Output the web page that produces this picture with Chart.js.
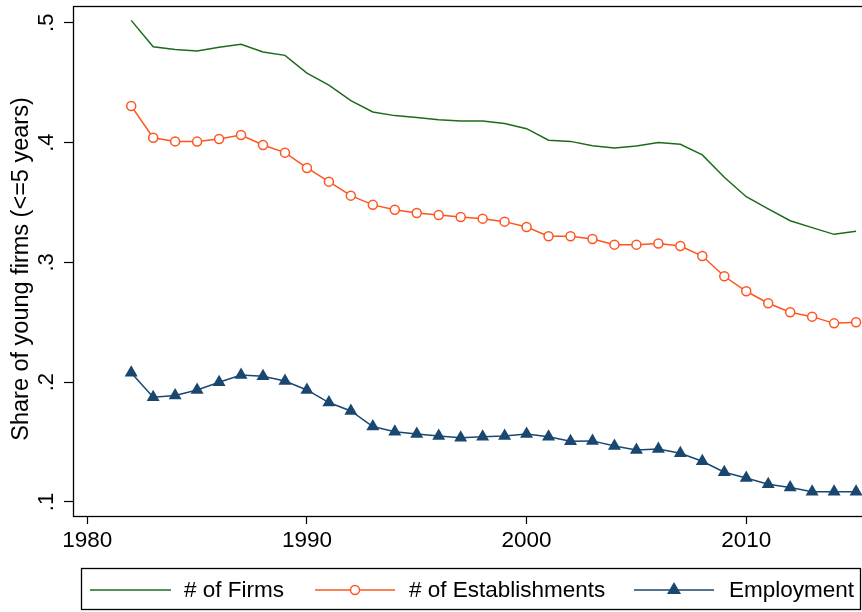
<!DOCTYPE html>
<html>
<head>
<meta charset="utf-8">
<script src="https://cdn.jsdelivr.net/npm/chart.js@4.4.0/dist/chart.umd.min.js"></script>
<style>
  html, body { margin: 0; padding: 0; background: #fff; }
  canvas { display: block; }
</style>
</head>
<body>
<canvas id="chart" width="862" height="612"></canvas>
<script>
// data
const years = [1982, 1983, 1984, 1985, 1986, 1987, 1988, 1989, 1990, 1991, 1992, 1993, 1994, 1995, 1996, 1997, 1998,
  1999, 2000, 2001, 2002, 2003, 2004, 2005, 2006, 2007, 2008, 2009, 2010, 2011, 2012, 2013, 2014, 2015];
const firms = [0.502, 0.480, 0.4776, 0.4765, 0.4795, 0.482, 0.4756, 0.4728, 0.458, 0.448, 0.435, 0.4255, 0.4225, 0.421,
  0.419, 0.418, 0.418, 0.416, 0.4116, 0.402, 0.401, 0.3974, 0.3955, 0.3972, 0.400, 0.3986, 0.3897, 0.371, 0.3548,
  0.3446, 0.3348, 0.329, 0.3234, 0.326];
const establishments = [0.4306, 0.404, 0.401, 0.4008, 0.403, 0.4063, 0.398, 0.3916, 0.3788, 0.3674, 0.3557, 0.348,
  0.344, 0.3412, 0.3396, 0.3379, 0.3365, 0.334, 0.3295, 0.3218, 0.3218, 0.3195, 0.3148, 0.3148, 0.3157, 0.3137,
  0.3053, 0.2884, 0.2759, 0.2659, 0.2584, 0.2547, 0.2491, 0.25];
const employment = [0.2079, 0.1874, 0.1888, 0.1935, 0.2, 0.206, 0.205, 0.201, 0.1935, 0.183, 0.176, 0.163, 0.1587,
  0.1568, 0.155, 0.1537, 0.1545, 0.155, 0.1568, 0.1545, 0.1507, 0.151, 0.1467, 0.1434, 0.1442, 0.1406, 0.134,
  0.1248, 0.12, 0.1148, 0.112, 0.1086, 0.1086, 0.1086];

const xTicks = [1980, 1990, 2000, 2010];
const yTicks = [0.1, 0.2, 0.3, 0.4, 0.5];
const yTickLabels = ['.1', '.2', '.3', '.4', '.5'];
const yTitle = 'Share of young firms (<=5 years)';
const seriesNames = ['# of Firms', '# of Establishments', 'Employment'];

const GREEN = '#1c6b1c';
const ORANGE = '#ff5420';
const NAVY = '#1a476f';
const FONT = '"Liberation Sans", Arial, Helvetica, sans-serif';

const toPoints = vals => years.map((yr, i) => ({ x: yr, y: vals[i] }));

// frame, rotated y labels, y title and the boxed legend
const stataDecor = {
  id: 'stataDecor',
  afterDraw(chart) {
    const ctx = chart.ctx;
    const a = chart.chartArea;
    const ys = chart.scales.y;
    ctx.save();
    ctx.strokeStyle = '#000';
    ctx.lineWidth = 1.3;
    ctx.strokeRect(a.left + 0.5, a.top + 0.5, a.right - a.left + 4, a.bottom - a.top);

    ctx.fillStyle = '#000';
    ctx.font = '22px ' + FONT;
    ctx.textAlign = 'center';
    ctx.textBaseline = 'middle';
    yTicks.forEach((v, i) => {
      const py = ys.getPixelForValue(v);
      ctx.save();
      ctx.translate(47, py);
      ctx.rotate(-Math.PI / 2);
      ctx.fillText(yTickLabels[i], 0, 0);
      ctx.restore();
    });

    ctx.save();
    ctx.font = '23.5px ' + FONT;
    ctx.translate(22, (a.top + a.bottom) / 2 + 8);
    ctx.rotate(-Math.PI / 2);
    ctx.fillText(yTitle, 0, 0);
    ctx.restore();

    // legend
    ctx.lineWidth = 1.3;
    ctx.strokeStyle = '#000';
    ctx.strokeRect(81.5, 568.5, 779, 41);
    const ly = 590;
    const items = [
      { x0: 90, x1: 171, tx: 184, color: GREEN, marker: null },
      { x0: 315, x1: 395, tx: 409, color: ORANGE, marker: 'circle' },
      { x0: 634, x1: 714, tx: 729, color: NAVY, marker: 'triangle' }
    ];
    items.forEach((it, i) => {
      ctx.strokeStyle = it.color;
      ctx.lineWidth = 1.5;
      ctx.beginPath();
      ctx.moveTo(it.x0, ly);
      ctx.lineTo(it.x1, ly);
      ctx.stroke();
      const cx = (it.x0 + it.x1) / 2;
      if (it.marker === 'circle') {
        ctx.fillStyle = '#fff';
        ctx.beginPath();
        ctx.arc(cx, ly, 4.5, 0, Math.PI * 2);
        ctx.fill();
        ctx.stroke();
      } else if (it.marker === 'triangle') {
        ctx.fillStyle = it.color;
        ctx.beginPath();
        ctx.moveTo(cx, ly - 8);
        ctx.lineTo(cx + 7, ly + 4);
        ctx.lineTo(cx - 7, ly + 4);
        ctx.closePath();
        ctx.fill();
      }
      ctx.fillStyle = '#000';
      ctx.font = '22.5px ' + FONT;
      ctx.textAlign = 'left';
      ctx.fillText(seriesNames[i], it.tx, ly + 1);
    });
    ctx.restore();
  }
};

new Chart(document.getElementById('chart'), {
  type: 'line',
  data: {
    datasets: [
      {
        label: seriesNames[0],
        data: toPoints(firms),
        borderColor: GREEN,
        borderWidth: 1.5,
        pointRadius: 0,
        tension: 0
      },
      {
        label: seriesNames[1],
        data: toPoints(establishments),
        borderColor: ORANGE,
        borderWidth: 1.5,
        pointRadius: 4.5,
        pointBorderWidth: 1.5,
        pointBorderColor: ORANGE,
        pointBackgroundColor: '#fff',
        tension: 0
      },
      {
        label: seriesNames[2],
        data: toPoints(employment),
        borderColor: NAVY,
        borderWidth: 1.5,
        pointStyle: 'triangle',
        pointRadius: 7.5,
        pointBorderWidth: 0,
        pointBackgroundColor: NAVY,
        pointBorderColor: NAVY,
        tension: 0
      }
    ]
  },
  options: {
    responsive: false,
    animation: false,
    layout: { autoPadding: false, padding: { left: 0, right: 0, top: 6, bottom: 0 } },
    plugins: { legend: { display: false }, tooltip: { enabled: false } },
    scales: {
      x: {
        type: 'linear',
        min: 1979.35,
        max: 2015.27,
        afterBuildTicks: s => { s.ticks = xTicks.map(v => ({ value: v })); },
        afterFit: s => { s.height = 96; s.paddingLeft = 0; s.paddingRight = 0; },
        grid: { drawOnChartArea: false, tickLength: 8, tickColor: '#000', tickWidth: 1.2 },
        border: { display: false },
        ticks: {
          color: '#000',
          padding: 3,
          maxRotation: 0,
          font: { family: FONT, size: 22.5 },
          callback: v => String(v)
        }
      },
      y: {
        min: 0.0883,
        max: 0.514,
        afterBuildTicks: s => { s.ticks = yTicks.map(v => ({ value: v })); },
        afterFit: s => { s.width = 73; s.paddingTop = 0; s.paddingBottom = 0; },
        grid: { drawOnChartArea: false, tickLength: 9, tickColor: '#000', tickWidth: 1.2 },
        border: { display: false },
        ticks: { display: false }
      }
    }
  },
  plugins: [stataDecor]
});
</script>
</body>
</html>
